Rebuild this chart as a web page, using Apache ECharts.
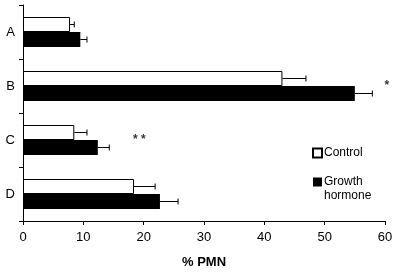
<!DOCTYPE html>
<html>
<head>
<meta charset="utf-8">
<script src="https://cdn.jsdelivr.net/npm/echarts@6/dist/echarts.min.js"></script>
<style>
  body { margin: 0; background: #fff; }
  #chart { width: 400px; height: 274px; }
</style>
</head>
<body>
<div id="chart"></div>
<script>
// values
var groups = ['A', 'B', 'C', 'D'];
var controlMean = [7.8, 43.0, 8.5, 18.4];
var controlErr = [0.7, 3.9, 2.1, 3.5];
var ghMean = [9.5, 55.0, 12.4, 22.7];
var ghErr = [1.1, 2.9, 1.9, 3.0];
var xTicks = [0, 10, 20, 30, 40, 50, 60];
var starGroups = ['B', 'C'];
var starX = [60.3, 19.3];
var starText = ['*', '* *'];

var BAR_W = 15;
var font = 'Liberation Sans, Arial, sans-serif';

function errorSeries(means, errs, side) {
  return {
    type: 'custom',
    silent: true,
    z: 5,
    data: means.map(function (m, i) { return [i, m, m + errs[i]]; }),
    renderItem: function (params, api) {
      var start = api.coord([api.value(1), api.value(0)]);
      var end = api.coord([api.value(2), api.value(0)]);
      var y = start[1] + side * BAR_W / 2;
      return {
        type: 'group',
        children: [
          { type: 'line', shape: { x1: start[0], y1: y, x2: end[0], y2: y },
            style: { stroke: '#000', lineWidth: 1 } },
          { type: 'line', shape: { x1: end[0], y1: y - 3, x2: end[0], y2: y + 3 },
            style: { stroke: '#000', lineWidth: 1 } }
        ]
      };
    }
  };
}

var chart = echarts.init(document.getElementById('chart'));
chart.setOption({
  animation: false,
  grid: { left: 23, right: 15, top: 5, bottom: 52 },
  legend: {
    orient: 'vertical',
    left: 312,
    top: 146,
    padding: 0,
    itemWidth: 9,
    itemHeight: 9,
    itemGap: 1,
    icon: 'rect',
    textStyle: { fontFamily: font, fontSize: 12, color: '#000', lineHeight: 14, padding: [0, 0, 0, -3] },
    // blank first line keeps the icon level with "Growth"
    formatter: function (name) { return name === 'Growth hormone' ? ' \nGrowth\nhormone' : name; },
    data: ['Control', 'Growth hormone']
  },
  xAxis: {
    type: 'value',
    min: 0,
    max: 60,
    interval: 10,
    name: '% PMN',
    nameLocation: 'middle',
    nameGap: 35,
    nameTextStyle: { fontFamily: font, fontSize: 13, fontWeight: 'bold', color: '#000' },
    axisLine: { show: true, lineStyle: { color: '#000' } },
    axisTick: { show: true, length: 4, lineStyle: { color: '#000' } },
    axisLabel: { fontFamily: font, fontSize: 13, color: '#000', margin: 10,
      formatter: function (v) { return xTicks.indexOf(v) >= 0 ? String(v) : ''; } },
    splitLine: { show: false }
  },
  yAxis: {
    type: 'category',
    data: groups,
    inverse: true,
    axisLine: { show: true, lineStyle: { color: '#000' } },
    axisTick: { show: true, length: 4, lineStyle: { color: '#000' } },
    axisLabel: { fontFamily: font, fontSize: 13, color: '#000', margin: 8 }
  },
  series: [
    {
      name: 'Control',
      type: 'bar',
      data: controlMean,
      barWidth: BAR_W,
      barGap: '0%',
      itemStyle: { color: '#fff', borderColor: '#000', borderWidth: 1 }
    },
    {
      name: 'Growth hormone',
      type: 'bar',
      data: ghMean,
      barWidth: BAR_W,
      barGap: '0%',
      itemStyle: { color: '#000' }
    },
    errorSeries(controlMean, controlErr, -1),
    errorSeries(ghMean, ghErr, 1),
    {
      type: 'scatter',
      symbolSize: 0,
      silent: true,
      clip: false,
      data: starGroups.map(function (g, i) { return [starX[i], g, starText[i]]; }),
      label: {
        show: true,
        position: 'inside',
        formatter: function (p) { return p.data[2]; },
        fontFamily: font,
        fontSize: 12,
        fontWeight: 'bold',
        color: '#000'
      }
    }
  ]
});
</script>
</body>
</html>
